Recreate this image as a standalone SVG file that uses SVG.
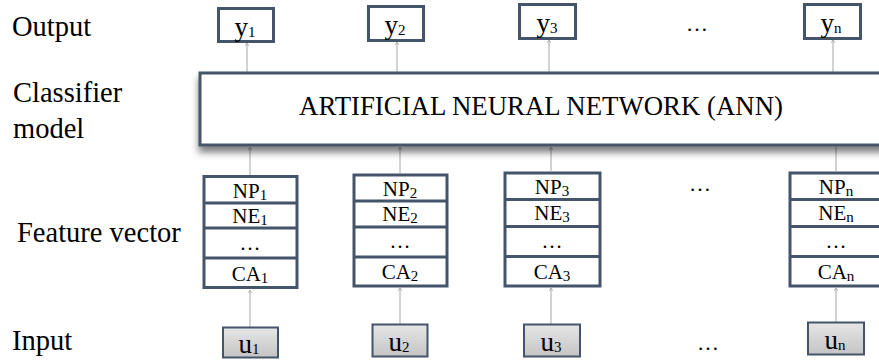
<svg xmlns="http://www.w3.org/2000/svg" width="879" height="363" viewBox="0 0 879 363">
<defs>
<style>
text{font-family:"Liberation Serif","Times New Roman",serif;fill:#000}
.lbl{font-size:28.5px}
.box{fill:#fff;stroke:#44546A;stroke-width:3}
.inp{fill:url(#g);stroke:#44546A;stroke-width:2}
.row{fill:none;stroke:#44546A;stroke-width:3}
.cn{stroke:#a6a6a6;stroke-width:1;fill:none;marker-end:url(#ah)}
.bt{font-size:27px;text-anchor:middle}
.ut{font-size:27px;text-anchor:middle}
.ft{font-size:21px;text-anchor:middle}
.sub{font-size:15px}
.dots{font-size:22px;text-anchor:middle}
</style>
<linearGradient id="g" x1="0" y1="0" x2="0" y2="1">
<stop offset="0" stop-color="#e6e6e6"/>
<stop offset="1" stop-color="#c4c4c4"/>
</linearGradient>
<filter id="sh" x="-5%" y="-20%" width="110%" height="160%">
<feDropShadow dx="0" dy="6" stdDeviation="3.5" flood-color="#000" flood-opacity="0.5"/>
</filter>
<marker id="ah" markerWidth="4" markerHeight="4" refX="3" refY="2" orient="auto" markerUnits="userSpaceOnUse">
<path d="M0,0 L3,2 L0,4" fill="none" stroke="#a6a6a6" stroke-width="0.8"/>
</marker>
</defs>

<g id="labels">
<text class="lbl" x="12" y="36">Output</text>
<text class="lbl" x="13" y="102">Classifier</text>
<text class="lbl" x="13" y="138">model</text>
<text class="lbl" x="17" y="242">Feature vector</text>
<text class="lbl" x="12" y="350">Input</text>
</g>

<g id="connectors">
<line class="cn" x1="247" y1="72" x2="247" y2="43"/>
<line class="cn" x1="397" y1="72" x2="397" y2="42"/>
<line class="cn" x1="549" y1="72" x2="549" y2="40"/>
<line class="cn" x1="833" y1="72" x2="833" y2="40"/>
<line class="cn" x1="250" y1="175" x2="250" y2="147"/>
<line class="cn" x1="400" y1="173" x2="400" y2="147"/>
<line class="cn" x1="551" y1="171" x2="551" y2="147"/>
<line class="cn" x1="836" y1="171" x2="836" y2="142"/>
<line class="cn" x1="250" y1="327" x2="250" y2="290"/>
<line class="cn" x1="400" y1="324" x2="400" y2="288"/>
<line class="cn" x1="551" y1="324" x2="551" y2="288"/>
<line class="cn" x1="836" y1="322" x2="836" y2="288"/>
</g>

<g id="ann">
<rect x="200" y="73" width="690" height="72" fill="#fff" stroke="#44546A" stroke-width="3" filter="url(#sh)"/>
<text x="541" y="115" font-size="26.8" text-anchor="middle">ARTIFICIAL NEURAL NETWORK (ANN)</text>
</g>

<g id="y1"><rect class="box" x="218.5" y="8.5" width="55" height="33"/><text class="bt" x="245" y="36">y<tspan class="sub" dy="1">1</tspan></text></g>
<g id="y2"><rect class="box" x="368.5" y="6.5" width="55" height="34"/><text class="bt" x="395" y="34">y<tspan class="sub" dy="1">2</tspan></text></g>
<g id="y3"><rect class="box" x="519.5" y="4.5" width="56" height="34"/><text class="bt" x="547" y="32">y<tspan class="sub" dy="1">3</tspan></text></g>
<g id="yn"><rect class="box" x="804.5" y="4.5" width="56" height="34"/><text class="bt" x="831" y="32">y<tspan class="sub" dy="1">n</tspan></text></g>
<g id="dots-top"><text class="dots" x="697" y="31">…</text></g>

<g id="fv1">
<rect class="box" x="204" y="176.5" width="93" height="111"/>
<path class="row" d="M204,203 H297 M204,228 H297 M204,258 H297"/>
<text class="ft" x="250" y="198">NP<tspan class="sub" dy="2">1</tspan></text>
<text class="ft" x="250" y="223">NE<tspan class="sub" dy="2">1</tspan></text>
<text class="ft" x="250" y="250">…</text>
<text class="ft" x="250" y="281">CA<tspan class="sub" dy="2">1</tspan></text>
</g>
<g id="fv2">
<rect class="box" x="354" y="175" width="93" height="111"/>
<path class="row" d="M354,201 H447 M354,227 H447 M354,257 H447"/>
<text class="ft" x="400" y="196">NP<tspan class="sub" dy="2">2</tspan></text>
<text class="ft" x="400" y="221">NE<tspan class="sub" dy="2">2</tspan></text>
<text class="ft" x="400" y="248">…</text>
<text class="ft" x="400" y="279">CA<tspan class="sub" dy="2">2</tspan></text>
</g>
<g id="fv3">
<rect class="box" x="505" y="173" width="95" height="113"/>
<path class="row" d="M505,199.5 H600 M505,226.5 H600 M505,256.5 H600"/>
<text class="ft" x="552" y="194">NP<tspan class="sub" dy="2">3</tspan></text>
<text class="ft" x="552" y="220">NE<tspan class="sub" dy="2">3</tspan></text>
<text class="ft" x="552" y="248">…</text>
<text class="ft" x="552" y="279">CA<tspan class="sub" dy="2">3</tspan></text>
</g>
<g id="dots-mid"><text class="dots" x="700" y="191">…</text></g>
<g id="fvn">
<rect class="box" x="790" y="173" width="100" height="113"/>
<path class="row" d="M790,199.5 H890 M790,226.5 H890 M790,256.5 H890"/>
<text class="ft" x="836" y="194">NP<tspan class="sub" dy="2">n</tspan></text>
<text class="ft" x="836" y="220">NE<tspan class="sub" dy="2">n</tspan></text>
<text class="ft" x="836" y="248">…</text>
<text class="ft" x="836" y="279">CA<tspan class="sub" dy="2">n</tspan></text>
</g>

<g id="u1"><rect class="inp" x="223" y="327.5" width="55" height="30"/><text class="ut" x="249" y="353">u<tspan class="sub" dy="1">1</tspan></text></g>
<g id="u2"><rect class="inp" x="372.5" y="324.5" width="55" height="32"/><text class="ut" x="399" y="351">u<tspan class="sub" dy="1">2</tspan></text></g>
<g id="u3"><rect class="inp" x="524" y="324.5" width="56" height="32"/><text class="ut" x="551" y="351">u<tspan class="sub" dy="1">3</tspan></text></g>
<g id="dots-bot"><text class="dots" x="708" y="350">…</text></g>
<g id="un"><rect class="inp" x="808" y="322.5" width="56" height="32"/><text class="ut" x="835" y="349">u<tspan class="sub" dy="1">n</tspan></text></g>
</svg>
